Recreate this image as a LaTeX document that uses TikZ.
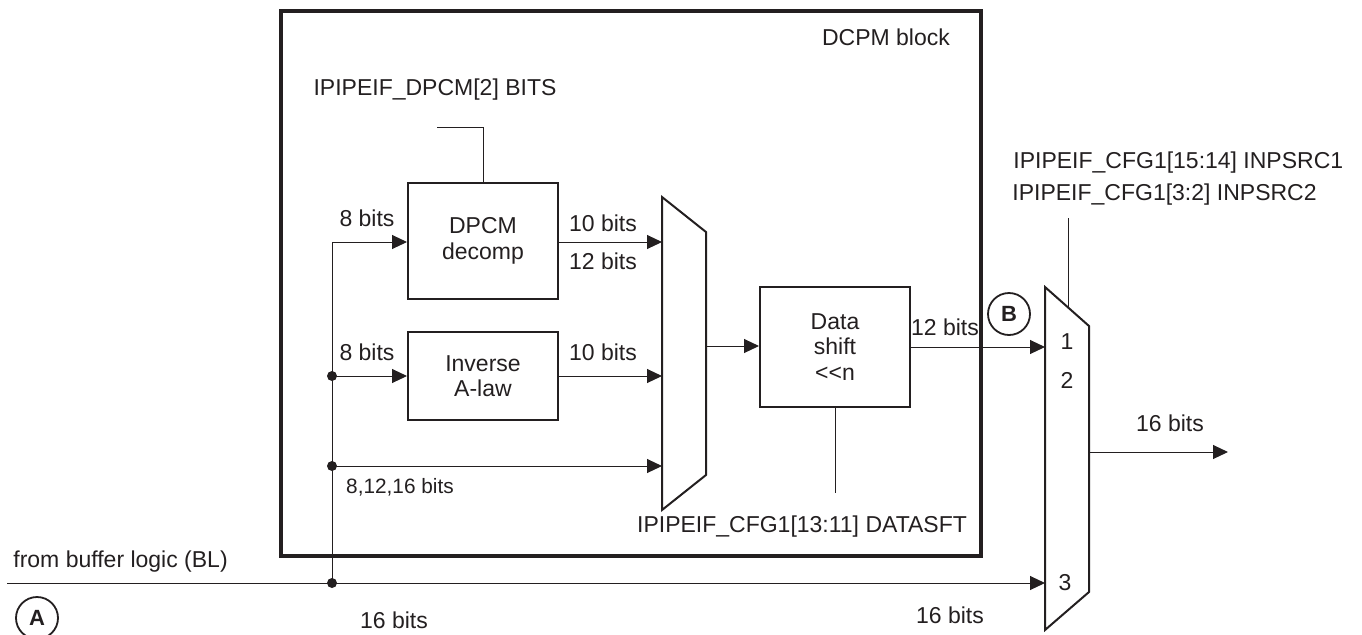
\documentclass[tikz,border=0pt]{standalone}
\usepackage{fontspec}
\setmainfont{Liberation Sans}
\usetikzlibrary{arrows.meta}
\definecolor{ink}{RGB}{35,31,32}
\begin{document}
\begin{tikzpicture}[x=0.5pt,y=-0.5pt,
  font=\fontsize{11.5}{12.75}\selectfont,
  color=ink,
  thinline/.style={line width=0.5pt},
  blockbox/.style={draw, line width=1pt, minimum width=75pt, inner sep=0pt, align=center},
  muxshape/.style={draw, line width=1pt, line join=miter},
  arr/.style={thinline, -{Triangle[length=7.5pt,width=7pt]}},
  lbl/.style={inner sep=0pt},
  small/.style={font=\fontsize{10.4}{12}\selectfont},
  junction/.style={circle, fill=ink, inner sep=0pt, minimum size=5pt},
  tag/.style={circle, draw, line width=0.9pt, minimum size=21pt, inner sep=0pt, font=\fontsize{11}{12}\selectfont\bfseries}
]
\useasboundingbox (0,0) rectangle (1362,634);

% outer DCPM block
\node[draw, line width=1.6pt, minimum width=350pt, minimum height=272.5pt, inner sep=0pt] (outer) at (631,283.5) {};
\node[lbl] (outerlbl) at (886,37) {DCPM block};

% blocks
\node[blockbox, minimum height=58pt] (dpcm) at (483,241) {DPCM\\decomp};
\node[blockbox, minimum height=44pt] (invA) at (483,376) {Inverse\\A-law};
\node[blockbox, minimum height=60pt] (shift) at (835,347) {Data\\shift\\{<}{<}n};

% multiplexers
\draw[muxshape] (662,197) -- (706,232) -- (706,475) -- (662,510) -- cycle;
\draw[muxshape] (1045,287) -- (1089,326) -- (1089,592) -- (1045,630) -- cycle;
\coordinate (m1a) at (662,242);
\coordinate (m1b) at (662,376);
\coordinate (m1c) at (662,466);
\coordinate (m1out) at (706,346);
\coordinate (m2a) at (1045,347);
\coordinate (m2c) at (1045,583);
\coordinate (m2out) at (1089,452);
\coordinate (m2ctl) at (1068,307);
\coordinate (outend) at (1228,452);

% control signals
\node[lbl] (dpcmctl) at (435,90) {IPIPEIF\_DPCM[2] BITS};
\coordinate (dpcmctlA) at (437,127);
\draw[thinline] (dpcmctlA) -- (dpcmctlA -| dpcm.north) -- (dpcm.north);

\coordinate (sftend) at (835,493);
\draw[thinline] (shift.south) -- (sftend);
\node[lbl] (sftlbl) at (802,527) {IPIPEIF\_CFG1[13:11] DATASFT};

\node[lbl, anchor=west] (srclbl1) at (1013,163) {IPIPEIF\_CFG1[15:14] INPSRC1};
\node[lbl, anchor=west] (srclbl2) at (1012,195) {IPIPEIF\_CFG1[3:2] INPSRC2};
\coordinate (m2ctltop) at (1068,218);
\draw[thinline] (m2ctltop) -- (m2ctl);

% input bus
\coordinate (inStart) at (7,583);
\coordinate (busTop) at (332,242);
\node[junction] (j1) at (332,376) {};
\node[junction] (j2) at (332,466) {};
\node[junction] (j3) at (332,583) {};
\draw[thinline] (busTop) -- (j3.center);
\draw[arr] (inStart) -- (m2c);
\draw[arr] (busTop) -- (busTop -| dpcm.west);
\draw[arr] (j1.center) -- (invA.west);
\draw[arr] (j2.center) -- (m1c);

% internal data paths
\draw[arr] (dpcm.east |- m1a) -- (m1a);
\draw[arr] (invA.east) -- (m1b);
\draw[arr] (m1out) -- (m1out -| shift.west);
\draw[arr] (shift.east |- m2a) -- (m2a);
\draw[arr] (m2out) -- (outend);

% labels
\node[lbl] (l8a) at (367,218) {8 bits};
\node[lbl] (l8b) at (367,352) {8 bits};
\node[lbl, small] (l81216) at (400,487) {8,12,16 bits};
\node[lbl] (l10a) at (603,223) {10 bits};
\node[lbl] (l12a) at (603,261) {12 bits};
\node[lbl] (l10b) at (603,352) {10 bits};
\node[lbl] (l12b) at (945,327) {12 bits};
\node[lbl] (l16out) at (1170,423) {16 bits};
\node[lbl] (l16a) at (394,620) {16 bits};
\node[lbl] (l16b) at (950,615) {16 bits};
\node[lbl, anchor=west] (bl) at (13,562) {from buffer logic (BL)};
\node[lbl] (p1) at (1067,342) {1};
\node[lbl] (p2) at (1067,380) {2};
\node[lbl] (p3) at (1065,583) {3};

\node[tag] (tagA) at (37,618) {A};
\node[tag] (tagB) at (1009,314) {B};
\end{tikzpicture}
\end{document}
